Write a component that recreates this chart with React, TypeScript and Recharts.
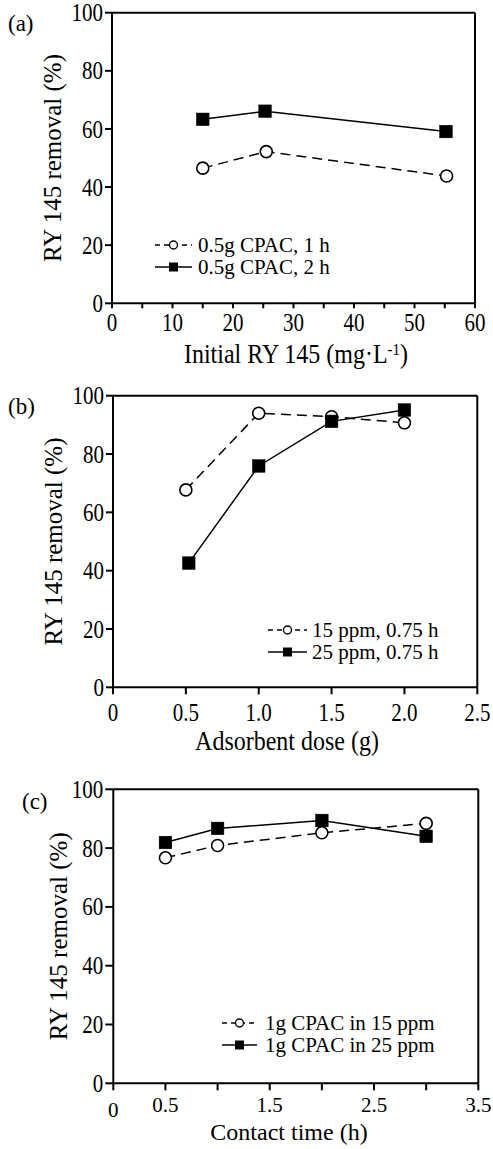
import React from 'react';
import { LineChart, Line, XAxis, YAxis, ReferenceLine, Legend } from 'recharts';

const FONT = "'Liberation Serif','Times New Roman',Times,serif";
const STRETCH = 1.15;

// ---------- Panel (a): Initial RY 145 concentration ----------
const aX1h = [15, 25.5, 55.3];
const aY1h = [46.5, 52.2, 43.8];
const aX2h = [15, 25.3, 55.2];
const aY2h = [63.3, 66.1, 59.1];
const aXTicks = [0, 5, 10, 15, 20, 25, 30, 35, 40, 45, 50, 55, 60];
const aXLabels = ['0', '', '10', '', '20', '', '30', '', '40', '', '50', '', '60'];
const aNames = ['0.5g CPAC, 1 h', '0.5g CPAC, 2 h'];

// ---------- Panel (b): Adsorbent dose ----------
const bX15 = [0.5, 1.0, 1.5, 2.0];
const bY15 = [67.7, 94.0, 92.8, 90.7];
const bX25 = [0.52, 1.0, 1.5, 2.0];
const bY25 = [42.6, 75.9, 91.2, 95.1];
const bXTicks = [0, 0.5, 1.0, 1.5, 2.0, 2.5];
const bXLabels = ['0', '0.5', '1.0', '1.5', '2.0', '2.5'];
const bNames = ['15 ppm, 0.75 h', '25 ppm, 0.75 h'];

// ---------- Panel (c): Contact time ----------
const cX = [0.5, 1.0, 2.0, 3.0];
const cY15 = [76.7, 80.9, 85.2, 88.4];
const cY25 = [81.9, 86.7, 89.4, 84.0];
const cXTicks = [0, 0.5, 1.0, 1.5, 2.0, 2.5, 3.0, 3.5];
const cXLabels = ['0', '0.5', '', '1.5', '', '2.5', '', '3.5'];
const cNames = ['1g CPAC in 15 ppm', '1g CPAC in 25 ppm'];

const yTicks = [0, 20, 40, 60, 80, 100];
const yTitle = 'RY 145 removal (%)';

const toPoints = (xs: number[], ys: number[]) => xs.map((x, i) => ({ x, y: ys[i] }));

const CircleDot = (p: any) => {
  const { cx, cy } = p;
  if (cx == null || cy == null) return <g key={p.index} />;
  return <circle key={p.index} cx={cx} cy={cy} r={6} fill="#fff" stroke="#000" strokeWidth={1.6} />;
};
const SquareDot = (p: any) => {
  const { cx, cy } = p;
  if (cx == null || cy == null) return <g key={p.index} />;
  return <rect key={p.index} x={cx - 6.3} y={cy - 6.3} width={12.6} height={12.6} fill="#000" stroke="#000" strokeWidth={0.5} />;
};

type PanelCfg = {
  top: number;
  height: number;
  plotLeft: number;
  plotRight: number;
  plotTop: number;
  plotBottom: number;
  xMax: number;
  xTicks: number[];
  xLabels: string[];
  xTickSize: number;
  xTickMargin: number;
  xTickStretch: number;
  xTitleStretch: number;
  yTickSize: number;
  lowZero: boolean;
  xTitle: React.ReactNode;
  xTitleX: number;
  xTitleBaseline: number;
  yTitleX: number;
  panelLabel: string;
  panelLabelLeft: number;
  panelLabelTop: number;
  s1: { x: number; y: number }[];
  s2: { x: number; y: number }[];
  names: string[];
  legendLeft: number;
  legendTop: number;
  legendSymbolW: number;
  legendGap: number;
};

const LegendSymbol = ({ w, dashed }: { w: number; dashed: boolean }) => (
  <svg width={w} height={14} style={{ display: 'block', flex: 'none' }}>
    <line x1={0} y1={7} x2={w} y2={7} stroke="#000" strokeWidth={1.5} strokeDasharray={dashed ? '5 4' : undefined} />
    {dashed ? (
      <circle cx={w / 2} cy={7} r={4} fill="#fff" stroke="#000" strokeWidth={1.4} />
    ) : (
      <rect x={w / 2 - 4.5} y={2.5} width={9} height={9} fill="#000" />
    )}
  </svg>
);

const YTick = (props: any) => {
  const { x, y, payload, index } = props;
  return (
    <text
      key={index}
      transform={`translate(${x},${y}) scale(1,${STRETCH})`}
      x={0}
      y={0}
      dy="0.355em"
      textAnchor="end"
      fontSize={21}
      fontFamily={FONT}
      fill="#000"
    >
      {String(payload.value)}
    </text>
  );
};

const Panel = ({ cfg }: { cfg: PanelCfg }) => {
  const width = 493;
  const xTick = (props: any) => {
    const { x, y, payload, index } = props;
    const idx = cfg.xTicks.indexOf(payload.value);
    const label = idx >= 0 ? cfg.xLabels[idx] : '';
    if (!label) return <g key={index} />;
    const extra = cfg.lowZero && payload.value === 0 ? 5 : 0;
    return (
      <text
        key={index}
        transform={`translate(${x},${y + extra}) scale(1,${cfg.xTickStretch})`}
        x={0}
        y={0}
        dy="0.71em"
        textAnchor="middle"
        fontSize={21}
        fontFamily={FONT}
        fill="#000"
      >
        {label}
      </text>
    );
  };
  const yMid = (cfg.plotTop + cfg.plotBottom) / 2;
  const legendContent = () => (
    <div style={{ fontFamily: FONT, fontSize: 21, color: '#000', lineHeight: '22px' }}>
      {cfg.names.map((n, i) => (
        <div key={n} style={{ display: 'flex', alignItems: 'center', height: 22, whiteSpace: 'nowrap' }}>
          <LegendSymbol w={cfg.legendSymbolW} dashed={i === 0} />
          <span style={{ marginLeft: cfg.legendGap }}>{n}</span>
        </div>
      ))}
    </div>
  );
  return (
    <div style={{ position: 'absolute', left: 0, top: cfg.top, width, height: cfg.height }}>
      <LineChart
        width={width}
        height={cfg.height}
        margin={{ top: cfg.plotTop, right: width - cfg.plotRight, bottom: 0, left: 0 }}
      >
        <XAxis
          type="number"
          dataKey="x"
          domain={[0, cfg.xMax]}
          ticks={cfg.xTicks}
          interval={0}
          allowDataOverflow
          height={cfg.height - cfg.plotBottom}
          tickSize={cfg.xTickSize}
          tickMargin={cfg.xTickMargin}
          stroke="#000"
          strokeWidth={2}
          tick={xTick}
          label={(() => (
            <text
              transform={`translate(${cfg.xTitleX},${cfg.xTitleBaseline}) scale(1,${cfg.xTitleStretch})`}
              x={0}
              y={0}
              textAnchor="middle"
              fontSize={24}
              fontFamily={FONT}
              fill="#000"
            >
              {cfg.xTitle}
            </text>
          )) as any}
        />
        <YAxis
          type="number"
          domain={[0, 100]}
          ticks={yTicks}
          interval={0}
          width={cfg.plotLeft}
          tickSize={cfg.yTickSize}
          tickMargin={2}
          stroke="#000"
          strokeWidth={2}
          tick={YTick}
          label={(() => (
            <text
              x={cfg.yTitleX}
              y={yMid}
              transform={`rotate(-90, ${cfg.yTitleX}, ${yMid})`}
              textAnchor="middle"
              dominantBaseline="central"
              fontSize={25}
              fontFamily={FONT}
              fill="#000"
            >
              {yTitle}
            </text>
          )) as any}
        />
        <ReferenceLine y={100} stroke="#000" strokeWidth={2} />
        <ReferenceLine x={cfg.xMax} stroke="#000" strokeWidth={2} />
        <Line
          data={cfg.s1}
          dataKey="y"
          name={cfg.names[0]}
          type="linear"
          stroke="#000"
          strokeWidth={1.5}
          strokeDasharray="10 6"
          dot={(p: any) => <CircleDot {...p} key={p.index} />}
          activeDot={false}
          isAnimationActive={false}
        />
        <Line
          data={cfg.s2}
          dataKey="y"
          name={cfg.names[1]}
          type="linear"
          stroke="#000"
          strokeWidth={1.5}
          dot={(p: any) => <SquareDot {...p} key={p.index} />}
          activeDot={false}
          isAnimationActive={false}
        />
        <Legend
          layout="vertical"
          align="center"
          verticalAlign="middle"
          content={legendContent}
          wrapperStyle={{ position: 'absolute', left: cfg.legendLeft, top: cfg.legendTop, width: 'auto', height: 'auto' }}
        />
      </LineChart>
      <div
        style={{
          position: 'absolute',
          left: cfg.panelLabelLeft,
          top: cfg.panelLabelTop,
          fontFamily: FONT,
          fontSize: 23,
          lineHeight: '23px',
          color: '#000',
        }}
      >
        {cfg.panelLabel}
      </div>
    </div>
  );
};

const panelA: PanelCfg = {
  top: 0,
  height: 380,
  plotLeft: 112,
  plotRight: 475,
  plotTop: 12.7,
  plotBottom: 303.3,
  xMax: 60,
  xTicks: aXTicks,
  xLabels: aXLabels,
  xTickSize: 5,
  xTickMargin: 6,
  xTickStretch: STRETCH,
  xTitleStretch: 1.12,
  yTickSize: 7,
  lowZero: false,
  xTitle: (
    <>
      Initial RY 145 (mg·L<tspan baselineShift="super" fontSize={15}>-1</tspan>)
    </>
  ),
  xTitleX: 296,
  xTitleBaseline: 363,
  yTitleX: 52,
  panelLabel: '(a)',
  panelLabelLeft: 8,
  panelLabelTop: 12,
  s1: toPoints(aX1h, aY1h),
  s2: toPoints(aX2h, aY2h),
  names: aNames,
  legendLeft: 155,
  legendTop: 234,
  legendSymbolW: 37,
  legendGap: 6,
};

const panelB: PanelCfg = {
  top: 380,
  height: 380,
  plotLeft: 113,
  plotRight: 477.3,
  plotTop: 15.7,
  plotBottom: 307.3,
  xMax: 2.5,
  xTicks: bXTicks,
  xLabels: bXLabels,
  xTickSize: 7,
  xTickMargin: 9.5,
  xTickStretch: STRETCH,
  xTitleStretch: 1.12,
  yTickSize: 7,
  lowZero: false,
  xTitle: 'Adsorbent dose (g)',
  xTitleX: 287,
  xTitleBaseline: 370,
  yTitleX: 53,
  panelLabel: '(b)',
  panelLabelLeft: 8,
  panelLabelTop: 14.5,
  s1: toPoints(bX15, bY15),
  s2: toPoints(bX25, bY25),
  names: bNames,
  legendLeft: 268,
  legendTop: 239,
  legendSymbolW: 39,
  legendGap: 5,
};

const panelC: PanelCfg = {
  top: 760,
  height: 389,
  plotLeft: 113.3,
  plotRight: 478.3,
  plotTop: 29.3,
  plotBottom: 323.3,
  xMax: 3.5,
  xTicks: cXTicks,
  xLabels: cXLabels,
  xTickSize: 7,
  xTickMargin: 7,
  xTickStretch: 1,
  xTitleStretch: 1,
  yTickSize: 8,
  lowZero: true,
  xTitle: 'Contact time (h)',
  xTitleX: 289,
  xTitleBaseline: 380,
  yTitleX: 59,
  panelLabel: '(c)',
  panelLabelLeft: 22,
  panelLabelTop: 29.5,
  s1: toPoints(cX, cY15),
  s2: toPoints(cX, cY25),
  names: cNames,
  legendLeft: 222,
  legendTop: 252,
  legendSymbolW: 35,
  legendGap: 8,
};

export default function App() {
  return (
    <div style={{ position: 'absolute', left: 0, top: 0, width: 493, height: 1149, background: '#fff', overflow: 'hidden' }}>
      <Panel cfg={panelA} />
      <Panel cfg={panelB} />
      <Panel cfg={panelC} />
    </div>
  );
}
